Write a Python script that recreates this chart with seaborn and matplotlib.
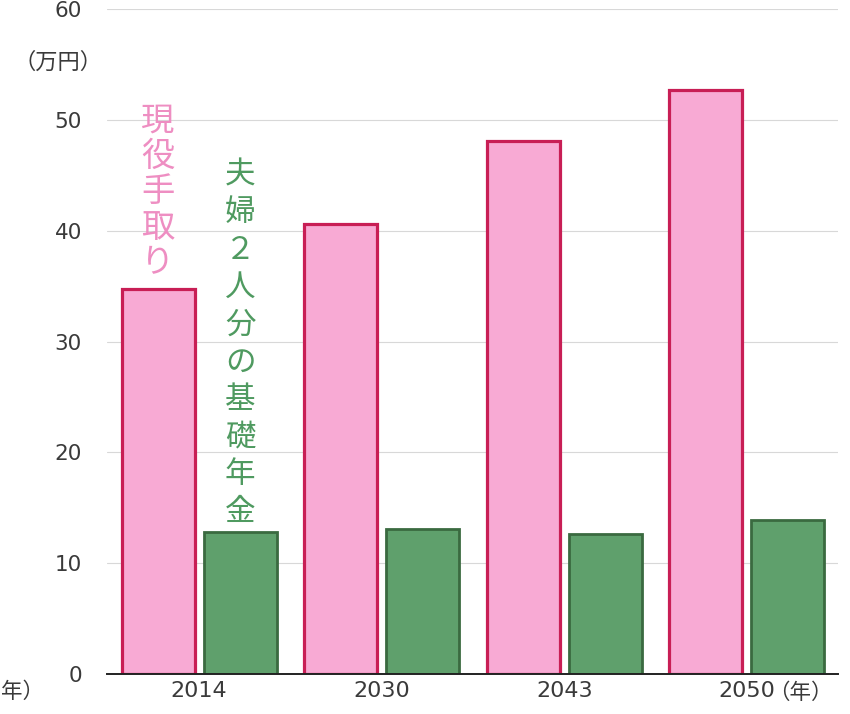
import matplotlib
matplotlib.use("Agg")
import matplotlib.pyplot as plt
import matplotlib.transforms as mtransforms
import seaborn as sns
import pandas as pd

# ---- data ----
years = ["2014", "2030", "2043", "2050"]
series_names = ["現役手取り", "夫婦２人分の基礎年金"]
worker_takehome = [34.7, 40.6, 48.1, 52.7]
couple_pension = [12.8, 13.1, 12.6, 13.9]
y_ticks = [0, 10, 20, 30, 40, 50, 60]
unit_label = "（万円）"
year_unit = "（年）"

df = pd.DataFrame({
    "year": years * 2,
    "series": [series_names[0]] * len(years) + [series_names[1]] * len(years),
    "value": worker_takehome + couple_pension,
})

sns.set_theme(style="white")
plt.rcParams["font.family"] = ["Noto Sans CJK JP", "DejaVu Sans"]

pink_fill = "#F8AAD4"
pink_edge = "#C81E55"
green_fill = "#5FA06C"
green_edge = "#3A6A40"
pink_text = "#EE8EC2"
green_text = "#4F9A60"
label_color = "#3a3a3a"

fig = plt.figure(figsize=(8.5, 7.14), dpi=100)
ax = fig.add_axes([107 / 850, 1 - 674 / 714, (838 - 107) / 850, (674 - 9) / 714])

sns.barplot(data=df, x="year", y="value", hue="series", order=years,
            hue_order=series_names,
            palette={series_names[0]: pink_fill, series_names[1]: green_fill},
            width=0.9, gap=0.11, saturation=1, ax=ax, legend=False, zorder=3)

for cont, ec, lw in zip(ax.containers, [pink_edge, green_edge], [2.3, 2.0]):
    for p in cont:
        p.set_edgecolor(ec)
        p.set_linewidth(lw)
        p.set_zorder(3)

ax.set_xlim(-0.505, 3.5)
ax.set_ylim(0, 60)
ax.set_yticks(y_ticks)
ax.set_yticklabels([str(t) for t in y_ticks], fontsize=15.5, color=label_color,
                   family=["DejaVu Sans"])
ax.set_xticklabels(years, fontsize=16, color=label_color, family=["DejaVu Sans"])
ax.tick_params(axis="y", length=0, pad=18)
ax.tick_params(axis="x", length=0, pad=5)
ax.set_xlabel("")
ax.set_ylabel("")

for s in ["left", "right", "top"]:
    ax.spines[s].set_visible(False)
ax.spines["bottom"].set_color("#222222")
ax.spines["bottom"].set_linewidth(1.4)
ax.spines["bottom"].set_zorder(4)

for t in y_ticks[1:]:
    ax.axhline(t, color="#d8d8d8", lw=0.8, zorder=1)

# unit labels
fig.text(58 / 850, 1 - 62 / 714, unit_label, fontsize=16, color=label_color,
         ha="center", va="center")
trans = mtransforms.blended_transform_factory(ax.transData, ax.transAxes)
ax.text(3.115, -0.028, year_unit, transform=trans, fontsize=15.5, color=label_color,
        ha="left", va="center", clip_on=False)
fig.text(1 / 850, 1 - 692 / 714, "年）", fontsize=15.5, color=label_color,
         ha="left", va="center")

# vertical series labels
pink_chars = list(series_names[0])
for i, ch in enumerate(pink_chars):
    ax.text(-0.225, 49.9 - i * 3.2, ch, fontsize=24, color=pink_text,
            ha="center", va="center", zorder=5)
green_chars = list(series_names[1])
for i, ch in enumerate(green_chars):
    ax.text(0.225, 45.0 - i * 3.38, ch, fontsize=22, color=green_text,
            ha="center", va="center", zorder=5)

fig.savefig("out.png", dpi=100)
